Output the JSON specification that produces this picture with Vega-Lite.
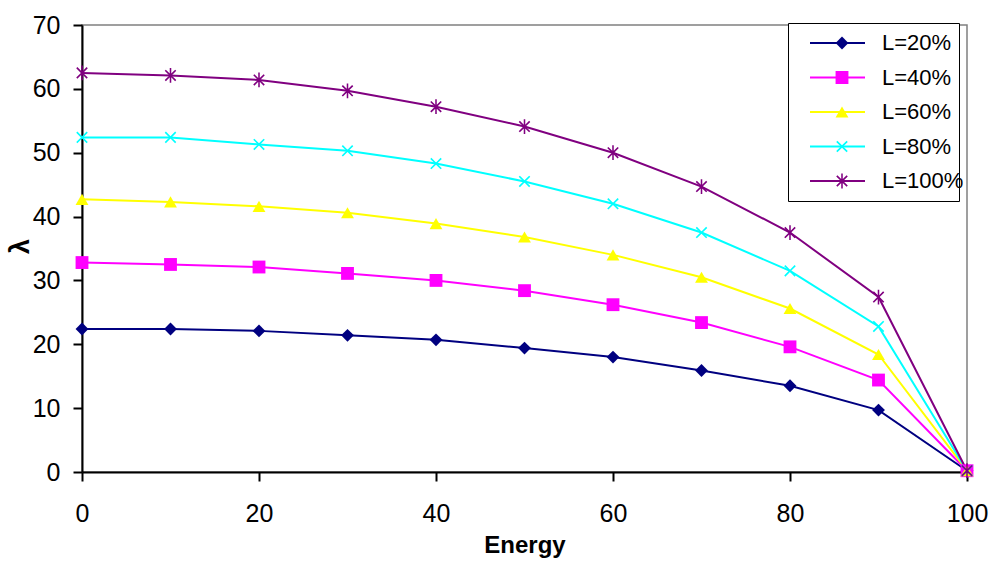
{
  "$schema": "https://vega.github.io/schema/vega-lite/v6.json",
  "width": 885,
  "height": 447,
  "autosize": "none",
  "padding": {"left": 82, "top": 25, "right": 33, "bottom": 92},
  "background": "white",
  "data": {
    "values": [
      {"energy": 0, "series": "L=20%", "lambda": 22.4},
      {"energy": 10, "series": "L=20%", "lambda": 22.4},
      {"energy": 20, "series": "L=20%", "lambda": 22.1},
      {"energy": 30, "series": "L=20%", "lambda": 21.4},
      {"energy": 40, "series": "L=20%", "lambda": 20.7},
      {"energy": 50, "series": "L=20%", "lambda": 19.4},
      {"energy": 60, "series": "L=20%", "lambda": 18.0},
      {"energy": 70, "series": "L=20%", "lambda": 15.9},
      {"energy": 80, "series": "L=20%", "lambda": 13.5},
      {"energy": 90, "series": "L=20%", "lambda": 9.7},
      {"energy": 100, "series": "L=20%", "lambda": 0.2},
      {"energy": 0, "series": "L=40%", "lambda": 32.8},
      {"energy": 10, "series": "L=40%", "lambda": 32.5},
      {"energy": 20, "series": "L=40%", "lambda": 32.1},
      {"energy": 30, "series": "L=40%", "lambda": 31.1},
      {"energy": 40, "series": "L=40%", "lambda": 30.0},
      {"energy": 50, "series": "L=40%", "lambda": 28.4},
      {"energy": 60, "series": "L=40%", "lambda": 26.2},
      {"energy": 70, "series": "L=40%", "lambda": 23.4},
      {"energy": 80, "series": "L=40%", "lambda": 19.6},
      {"energy": 90, "series": "L=40%", "lambda": 14.4},
      {"energy": 100, "series": "L=40%", "lambda": 0.2},
      {"energy": 0, "series": "L=60%", "lambda": 42.7},
      {"energy": 10, "series": "L=60%", "lambda": 42.3},
      {"energy": 20, "series": "L=60%", "lambda": 41.6},
      {"energy": 30, "series": "L=60%", "lambda": 40.6},
      {"energy": 40, "series": "L=60%", "lambda": 38.9},
      {"energy": 50, "series": "L=60%", "lambda": 36.8},
      {"energy": 60, "series": "L=60%", "lambda": 34.0},
      {"energy": 70, "series": "L=60%", "lambda": 30.5},
      {"energy": 80, "series": "L=60%", "lambda": 25.6},
      {"energy": 90, "series": "L=60%", "lambda": 18.4},
      {"energy": 100, "series": "L=60%", "lambda": 0.2},
      {"energy": 0, "series": "L=80%", "lambda": 52.4},
      {"energy": 10, "series": "L=80%", "lambda": 52.4},
      {"energy": 20, "series": "L=80%", "lambda": 51.3},
      {"energy": 30, "series": "L=80%", "lambda": 50.3},
      {"energy": 40, "series": "L=80%", "lambda": 48.3},
      {"energy": 50, "series": "L=80%", "lambda": 45.5},
      {"energy": 60, "series": "L=80%", "lambda": 42.0},
      {"energy": 70, "series": "L=80%", "lambda": 37.5},
      {"energy": 80, "series": "L=80%", "lambda": 31.5},
      {"energy": 90, "series": "L=80%", "lambda": 22.8},
      {"energy": 100, "series": "L=80%", "lambda": 0.2},
      {"energy": 0, "series": "L=100%", "lambda": 62.5},
      {"energy": 10, "series": "L=100%", "lambda": 62.1},
      {"energy": 20, "series": "L=100%", "lambda": 61.4},
      {"energy": 30, "series": "L=100%", "lambda": 59.7},
      {"energy": 40, "series": "L=100%", "lambda": 57.2},
      {"energy": 50, "series": "L=100%", "lambda": 54.1},
      {"energy": 60, "series": "L=100%", "lambda": 50.0},
      {"energy": 70, "series": "L=100%", "lambda": 44.7},
      {"energy": 80, "series": "L=100%", "lambda": 37.5},
      {"energy": 90, "series": "L=100%", "lambda": 27.4},
      {"energy": 100, "series": "L=100%", "lambda": 0.2}
    ]
  },
  "encoding": {
    "x": {
      "field": "energy",
      "type": "quantitative",
      "scale": {"domain": [0, 100], "nice": false, "zero": false},
      "axis": {
        "title": "Energy",
        "values": [0, 20, 40, 60, 80, 100],
        "grid": false,
        "domainColor": "black",
        "domainWidth": 2,
        "tickColor": "black",
        "tickWidth": 2,
        "tickSize": 9,
        "labelFont": "Liberation Sans",
        "labelFontSize": 25,
        "labelColor": "black",
        "labelPadding": 20,
        "labelFlush": false,
        "titleFont": "Liberation Sans",
        "titleFontSize": 24,
        "titleFontWeight": "bold",
        "titleColor": "black",
        "titleBaseline": "alphabetic",
        "titleY": 80
      }
    },
    "y": {
      "field": "lambda",
      "type": "quantitative",
      "scale": {"domain": [0, 70], "nice": false},
      "axis": {
        "title": "λ",
        "values": [0, 10, 20, 30, 40, 50, 60, 70],
        "grid": false,
        "domainColor": "black",
        "domainWidth": 2,
        "tickColor": "black",
        "tickWidth": 2,
        "tickSize": 9,
        "labelFont": "Liberation Sans",
        "labelFontSize": 25,
        "labelColor": "black",
        "labelPadding": 13,
        "titleFont": "Liberation Sans",
        "titleFontSize": 27,
        "titleFontWeight": "bold",
        "titleColor": "black",
        "titleBaseline": "alphabetic",
        "titleX": -54,
        "titleY": 221
      }
    }
  },
  "layer": [
    {
      "mark": {"type": "line", "strokeWidth": 2},
      "encoding": {
        "stroke": {
          "field": "series",
          "type": "nominal",
          "scale": {
            "domain": ["L=100%", "L=80%", "L=60%", "L=40%", "L=20%"],
            "range": ["#800080", "#00FFFF", "#FFFF00", "#FF00FF", "#000080"]
          },
          "sort": ["L=20%", "L=40%", "L=60%", "L=80%", "L=100%"],
          "legend": {
            "title": null,
            "orient": "none",
            "legendX": 706,
            "legendY": -2,
            "direction": "vertical",
            "values": ["L=20%", "L=40%", "L=60%", "L=80%", "L=100%"],
            "strokeColor": "black",
            "fillColor": "white",
            "padding": 4,
            "symbolType": "stroke",
            "symbolSize": 3025,
            "symbolStrokeWidth": 2,
            "symbolOffset": 17,
            "labelOffset": 7,
            "labelFont": "Liberation Sans",
            "labelFontSize": 22,
            "labelColor": "black",
            "labelOpacity": 0,
            "labelLimit": 200,
            "clipHeight": 32,
            "rowPadding": 2.5
          }
        }
      }
    },
    {
      "mark": {"type": "point", "filled": true, "size": 165, "opacity": 1},
      "encoding": {
        "fill": {
          "field": "series",
          "type": "nominal",
          "scale": {
            "domain": ["L=20%", "L=40%", "L=60%", "L=80%", "L=100%"],
            "range": ["#000080", "#FF00FF", "#FFFF00", "#00FFFF", "#800080"]
          },
          "legend": {
            "title": null,
            "orient": "none",
            "legendX": 706,
            "legendY": -2,
            "direction": "vertical",
            "padding": 4,
            "symbolSize": 165,
            "symbolStrokeWidth": 0,
            "symbolOpacity": 1,
            "symbolOffset": 39,
            "labelOffset": 29,
            "labelFont": "Liberation Sans",
            "labelFontSize": 22,
            "labelColor": "black",
            "labelLimit": 200,
            "clipHeight": 32,
            "rowPadding": 2.5
          }
        },
        "shape": {
          "field": "series",
          "type": "nominal",
          "scale": {
            "domain": ["L=20%", "L=40%", "L=60%", "L=80%", "L=100%"],
            "range": [
              "diamond",
              "square",
              "triangle-up",
              "M-0.72,-0.9L0,-0.18L0.72,-0.9L0.9,-0.72L0.18,0L0.9,0.72L0.72,0.9L0,0.18L-0.72,0.9L-0.9,0.72L-0.18,0L-0.9,-0.72Z",
              "M-0.72,-0.9L0,-0.18L0.72,-0.9L0.9,-0.72L0.18,0L0.9,0.72L0.72,0.9L0,0.18L-0.72,0.9L-0.9,0.72L-0.18,0L-0.9,-0.72ZM-0.12,-1.15H0.12V1.15H-0.12Z"
            ]
          }
        }
      }
    }
  ],
  "config": {
    "view": {"stroke": "#808080", "strokeWidth": 1.5},
    "font": "Liberation Sans"
  }
}
